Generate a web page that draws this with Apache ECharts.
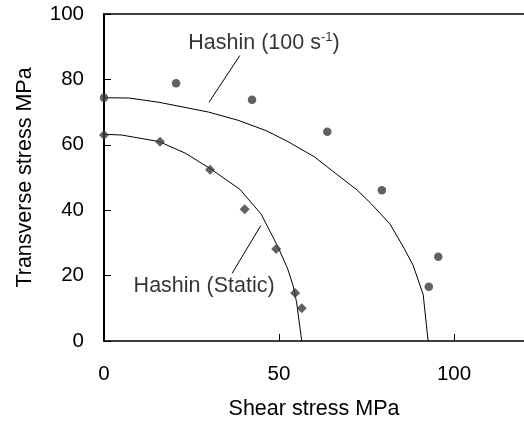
<!DOCTYPE html>
<html>
<head>
<meta charset="utf-8">
<script src="https://cdn.jsdelivr.net/npm/echarts@6/dist/echarts.min.js"></script>
<style>
html,body{margin:0;padding:0;background:#fff;}
#chart{width:524px;height:425px;}
</style>
</head>
<body>
<div id="chart"></div>
<script>
// Measured data (shear stress MPa, transverse stress MPa)
const staticPoints = [[0,63.0],[16.0,60.9],[30.3,52.4],[40.2,40.3],[49.2,28.1],[54.6,14.7],[56.5,10.0]];
const dynamicPoints = [[0,74.4],[20.6,78.8],[42.3,73.8],[63.8,64.0],[79.4,46.1],[95.5,25.8],[92.8,16.6]];
const staticCurve = [[0,63.2],[5,63.0],[15.7,61.0],[23.3,57.4],[30.8,52.4],[38.8,46.4],[44.9,38.8],[49.7,28.8],[52.5,22.0],[54.0,17.0],[55.0,12.0],[56.5,0]];
const dynamicCurve = [[0,74.4],[7.2,74.3],[15.7,73.0],[29.9,70.0],[38.3,67.5],[46.4,64.3],[52.5,61.0],[60.0,56.4],[66.6,50.9],[72.3,46.2],[76.5,41.8],[81.7,35.8],[85.5,28.8],[88.3,23.2],[91.2,14.2],[92.6,0]];
const dynamicLeader = [[38.8,87.3],[30.0,73.0]];
const staticLeader = [[44.8,35.3],[36.6,20.7]];
const dynamicLabelPos = [[45.7,91.2]];
const staticLabelPos = [[28.6,16.7]];
const xTicks = [0,50,100];
const yTicks = [0,20,40,60,80,100];

const FONT = 'Liberation Sans, Arial, sans-serif';
const chart = echarts.init(document.getElementById('chart'), null, {renderer:'canvas'});
const markerColor = '#3a3a3a';
const option = {
  animation:false,
  backgroundColor:'#fff',
  grid:{left:104, top:14, bottom:80, right:-5, containLabel:false},
  xAxis:[{
    type:'value', min:0, max:120, interval:50,
    name:'Shear stress MPa', nameLocation:'middle', nameGap:57,
    nameTextStyle:{fontFamily:FONT, fontSize:21.5, color:'#000'},
    axisLine:{show:true, onZero:false, lineStyle:{color:'#000', width:1.5}},
    axisTick:{show:true, inside:true, length:7, lineStyle:{color:'#000', width:1}},
    axisLabel:{fontFamily:FONT, fontSize:20.5, color:'#000', margin:23, showMaxLabel:false,
      formatter:v=> xTicks.includes(v) ? String(v) : ''},
    splitLine:{show:false}
  },{
    type:'value', min:0, max:120, position:'top',
    axisLine:{show:true, onZero:false, lineStyle:{color:'#000', width:1.5}},
    axisTick:{show:false}, axisLabel:{show:false}, splitLine:{show:false}
  }],
  yAxis:{
    type:'value', min:0, max:100, interval:20,
    name:'Transverse stress MPa', nameLocation:'middle', nameGap:68,
    nameTextStyle:{fontFamily:FONT, fontSize:21.5, color:'#000'},
    axisLine:{show:true, onZero:false, lineStyle:{color:'#000', width:2}},
    axisTick:{show:true, inside:true, length:7, lineStyle:{color:'#000', width:1}},
    axisLabel:{fontFamily:FONT, fontSize:20.5, color:'#000', margin:20,
      formatter:v=> yTicks.includes(v) ? String(v) : ''},
    splitLine:{show:false}
  },
  series:[
    {type:'line', data:dynamicCurve, showSymbol:false, symbol:'none', lineStyle:{color:'#000', width:1}, z:2},
    {type:'line', data:staticCurve, showSymbol:false, symbol:'none', lineStyle:{color:'#000', width:1}, z:2},
    {type:'line', data:dynamicLeader, symbol:'none', lineStyle:{color:'#000', width:1}, z:2},
    {type:'line', data:staticLeader, symbol:'none', lineStyle:{color:'#000', width:1}, z:2},
    {type:'scatter', data:dynamicPoints, symbol:'circle', symbolSize:8.5, itemStyle:{color:markerColor}, z:5, clip:false},
    {type:'scatter', data:staticPoints, symbol:'diamond', symbolSize:10, itemStyle:{color:markerColor}, z:5, clip:false},
    {type:'scatter', data:dynamicLabelPos, symbolSize:0, z:6,
      label:{show:true, position:'inside', color:'#000',
        formatter:'{a|Hashin (100 s}{b|-1}{a|)}',
        rich:{a:{fontFamily:FONT, fontSize:21.5, color:'#000', lineHeight:24},
              b:{fontFamily:FONT, fontSize:13, color:'#000', verticalAlign:'top', lineHeight:24, padding:[0,0,8,0]}}}},
    {type:'scatter', data:staticLabelPos, symbolSize:0, z:6,
      label:{show:true, position:'inside', color:'#000', fontFamily:FONT, fontSize:21.5,
        formatter:'Hashin (Static)'}}
  ]
};
chart.setOption(option);
</script>
</body>
</html>
